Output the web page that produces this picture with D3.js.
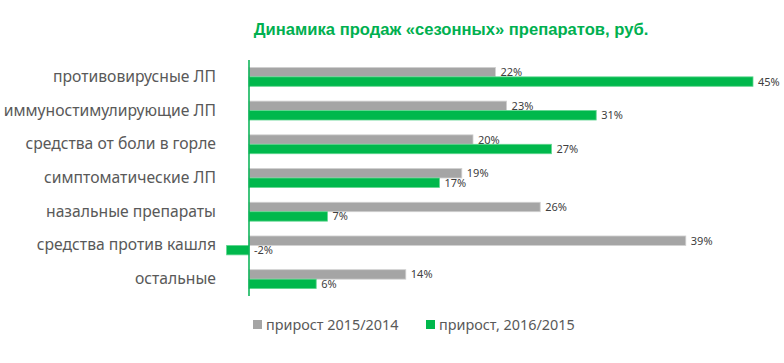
<!DOCTYPE html>
<html>
<head>
<meta charset="utf-8">
<script src="https://cdn.jsdelivr.net/npm/d3@7"></script>
<style>
  body { margin: 0; background: #fff; }
</style>
</head>
<body>
<div id="chart"></div>
<script>
var title = 'Динамика продаж «сезонных» препаратов, руб.'
var categories = ['противовирусные ЛП', 'иммуностимулирующие ЛП', 'средства от боли в горле',
    'симптоматические ЛП', 'назальные препараты', 'средства против кашля', 'остальные']
var seriesNames = ['прирост 2015/2014', 'прирост, 2016/2015']
var growth2015 = [22, 23, 20, 19, 26, 39, 14]
var growth2016 = [45, 31, 27, 17, 7, -2, 6]

var width = 784
var height = 363
var colors = ['#a5a5a5', '#00b84c']
var strokes = ['#d0d0d0', '#5fd68f']
var textColor = '#595959'

var svg = d3.select('#chart').append('svg')
    .attr('width', width)
    .attr('height', height)

svg.append('text')
    .attr('x', 451)
    .attr('y', 35)
    .attr('text-anchor', 'middle')
    .attr('font-family', 'Liberation Sans, Arial, sans-serif')
    .attr('font-weight', 'bold')
    .attr('font-size', 16.6)
    .attr('fill', '#00b050')
    .text(title)

var X = d3.scaleLinear().domain([0, 45]).range([249, 753])
var Y = d3.scaleBand().domain(categories).range([60, 296]).paddingInner(0.44).paddingOuter(0.22)
var barH = Y.bandwidth() / 2

// подписи категорий
svg.append('g')
    .selectAll('text')
    .data(categories)
    .enter()
    .append('text')
    .attr('x', 216)
    .attr('y', function (d) { return Y(d) + Y.bandwidth() / 2 + 5 })
    .attr('text-anchor', 'end')
    .attr('font-family', 'Noto Sans, sans-serif')
    .attr('font-size', 15.7)
    .attr('fill', textColor)
    .text(function (d) { return d })

var series = [growth2015, growth2016]
series.forEach(function (values, s) {
    var g = svg.append('g').attr('class', 'series' + s)
    g.selectAll('rect')
        .data(values)
        .enter()
        .append('rect')
        .attr('x', function (d) { return X(Math.min(0, d)) })
        .attr('y', function (d, i) { return Y(categories[i]) + s * barH })
        .attr('width', function (d) { return Math.abs(X(d) - X(0)) })
        .attr('height', barH)
        .attr('fill', colors[s])
        .attr('stroke', strokes[s])
        .attr('stroke-width', 0.8)
    g.selectAll('text')
        .data(values)
        .enter()
        .append('text')
        .attr('x', function (d) { return X(Math.max(0, d)) + 5 })
        .attr('y', function (d, i) { return Y(categories[i]) + s * barH + barH / 2 + 4 })
        .attr('font-family', 'Noto Sans, sans-serif')
        .attr('font-size', 11)
        .attr('fill', '#404040')
        .text(function (d) { return d + '%' })
})

// ось
svg.append('line')
    .attr('x1', X(0))
    .attr('x2', X(0))
    .attr('y1', 60)
    .attr('y2', 296)
    .attr('stroke', '#00b050')
    .attr('stroke-width', 1.5)

// легенда
var legendX = [253, 426]
var legend = svg.append('g')
    .selectAll('g')
    .data(seriesNames)
    .enter()
    .append('g')
    .attr('transform', function (d, i) { return 'translate(' + legendX[i] + ',320)' })
legend.append('rect')
    .attr('width', 9)
    .attr('height', 9)
    .attr('fill', function (d, i) { return colors[i] })
legend.append('text')
    .attr('x', 13)
    .attr('y', 10)
    .attr('font-family', 'Noto Sans, sans-serif')
    .attr('font-size', 14.4)
    .attr('fill', textColor)
    .text(function (d) { return d })
</script>
</body>
</html>
